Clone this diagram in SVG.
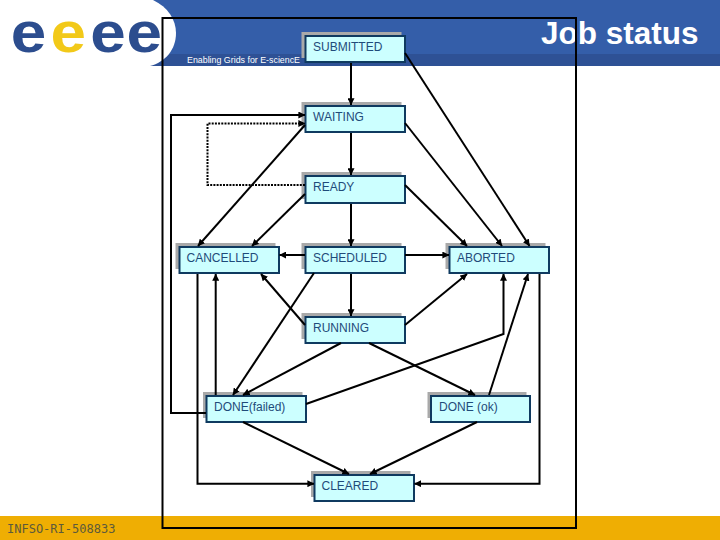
<svg xmlns="http://www.w3.org/2000/svg" width="720" height="540" viewBox="0 0 720 540">
  <style>
    .n text{font:12px "Liberation Sans",Arial,sans-serif;fill:#1f4b7a}
    .s{fill:#a9a9a9}
    .f{fill:#ccffff;stroke:#0f3a60;stroke-width:2}
    #connectors path{fill:none;stroke:#000;stroke-width:2;marker-end:url(#a)}
    #connectors path.d{stroke-dasharray:2 1.2;stroke-width:2}
  </style>
  <defs>
    <marker id="a" viewBox="0 0 10 10" refX="9.500" refY="5" markerWidth="7" markerHeight="7" markerUnits="userSpaceOnUse" orient="auto">
      <path d="M0 0L10 5L0 10Z" fill="#000"/>
    </marker>
  </defs>
  <rect width="720" height="540" fill="#fff"/>
  <rect width="720" height="54" fill="#345ea9"/>
  <rect y="54" width="720" height="12" fill="#2e5195"/>
  <rect y="516" width="720" height="24" fill="#efae03"/>
  <path d="M0 0H153C168 7 176 20 176 33C176 50 165 62 150 66H0Z" fill="#fff"/>
  <text y="52.500" font-family="Liberation Sans,sans-serif" font-weight="700" font-size="57" fill="#2c4d8e" transform="scale(1.12 1)"><tspan x="9.500">e</tspan><tspan x="45" fill="#f2c919">e</tspan><tspan x="80.500">e</tspan><tspan x="113">e</tspan></text>
  <text x="187" y="63" font-family="Liberation Sans,sans-serif" font-size="9.500" textLength="113" lengthAdjust="spacingAndGlyphs" fill="#fff">Enabling Grids for E-sciencE</text>
  <text x="541" y="44" font-family="Liberation Sans,sans-serif" font-size="31.500" font-weight="700" fill="#fff">Job status</text>
  <text x="7" y="533" font-family="DejaVu Sans Mono,monospace" font-size="12" fill="#5c5a3c">INFSO-RI-508833</text>
  <rect x="162.500" y="18" width="413.500" height="510" fill="none" stroke="#000" stroke-width="2"/>

  <g id="nodes" class="n">
    <g id="submitted"><rect class="s" x="301.500" y="32" width="100" height="26"/><rect class="f" x="305.500" y="36" width="99.500" height="26"/><text x="313" y="51">SUBMITTED</text></g>
    <g id="waiting"><rect class="s" x="301.500" y="102" width="100" height="26"/><rect class="f" x="305.500" y="106" width="99.500" height="26"/><text x="313" y="121">WAITING</text></g>
    <g id="ready"><rect class="s" x="301.500" y="172" width="100" height="27"/><rect class="f" x="305.500" y="176" width="99.500" height="27"/><text x="313" y="191">READY</text></g>
    <g id="cancelled"><rect class="s" x="175.500" y="243" width="100" height="26"/><rect class="f" x="179.500" y="247" width="99.500" height="26"/><text x="186.500" y="262">CANCELLED</text></g>
    <g id="scheduled"><rect class="s" x="301.500" y="243" width="100" height="26"/><rect class="f" x="305.500" y="247" width="99.500" height="26"/><text x="313" y="262">SCHEDULED</text></g>
    <g id="aborted"><rect class="s" x="445.500" y="243" width="100" height="26"/><rect class="f" x="449.500" y="247" width="99.500" height="26"/><text x="457" y="262">ABORTED</text></g>
    <g id="running"><rect class="s" x="301.500" y="313" width="100" height="26"/><rect class="f" x="305.500" y="317" width="99.500" height="26"/><text x="313" y="332">RUNNING</text></g>
    <g id="done-failed"><rect class="s" x="203" y="392" width="99.500" height="26"/><rect class="f" x="206.500" y="396" width="99.500" height="26"/><text x="214" y="411">DONE(failed)</text></g>
    <g id="done-ok"><rect class="s" x="427.500" y="392" width="99" height="26"/><rect class="f" x="431" y="396" width="99" height="26"/><text x="439" y="411">DONE (ok)</text></g>
    <g id="cleared"><rect class="s" x="311" y="471" width="99.500" height="26"/><rect class="f" x="314.500" y="475" width="99.500" height="26"/><text x="321.500" y="490">CLEARED</text></g>
  </g>

  <g id="connectors">
    <path d="M351 63V105"/>
    <path d="M351 133V175"/>
    <path d="M351 204V246"/>
    <path d="M351 274V316"/>
    <path d="M405 53L529.500 246"/>
    <path d="M405 123L502 246"/>
    <path d="M405 185L467 246"/>
    <path d="M405 255H449"/>
    <path d="M405 325L467 274"/>
    <path d="M306 404L503.500 334V274"/>
    <path d="M489 395L528 274"/>
    <path d="M539.500 274V483.700H414.500"/>
    <path d="M369 343L475 395"/>
    <path d="M341 343L243 395"/>
    <path d="M314 273L233 395"/>
    <path d="M305 325L261 274"/>
    <path d="M215.700 395V274"/>
    <path d="M206 413H171V115H305"/>
    <path class="d" d="M305 185H207.500V123.500H305"/>
    <path d="M305 125L198 246"/>
    <path d="M305 194L252 246"/>
    <path d="M305 255H279.500"/>
    <path d="M197.500 274V483.700H314"/>
    <path d="M477 422L370 474"/>
    <path d="M243 422L349 474"/>
  </g>
</svg>
